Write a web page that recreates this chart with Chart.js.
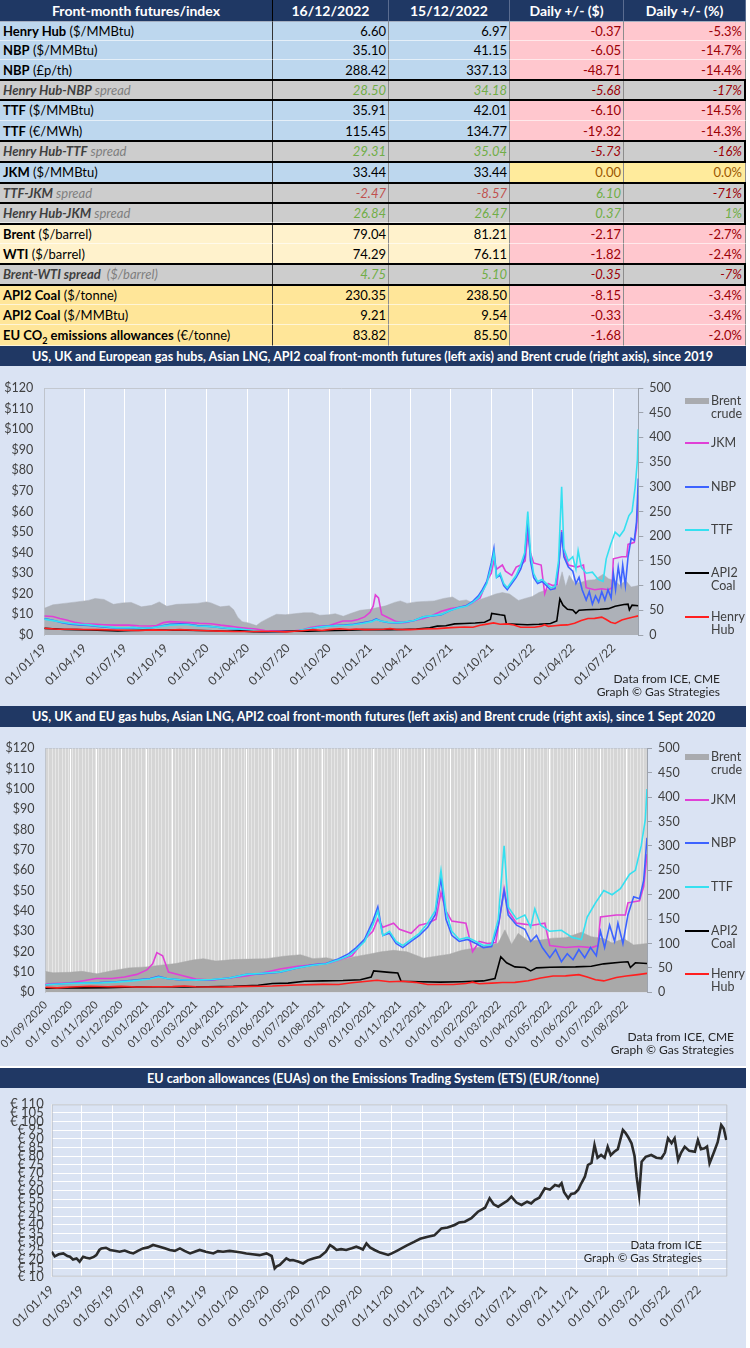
<!DOCTYPE html>
<html><head><meta charset="utf-8">
<script src="https://cdn.jsdelivr.net/npm/chart.js@4.4.1/dist/chart.umd.min.js"></script>
<style>
html,body{margin:0;padding:0}
body{width:750px;height:1348px;position:relative;overflow:hidden;background:#fff;font-family:Lato,"Noto Sans",sans-serif}
.cell{position:absolute;box-sizing:border-box;white-space:nowrap;overflow:hidden;font-size:13px;padding:0 3px}
.bar{position:absolute;left:0;width:746px;background:#203864;color:#fff;font-weight:700;font-size:13.5px}
.fit{position:absolute;top:0;white-space:nowrap;transform-origin:0 50%}
.panel{position:absolute;left:0;width:746px;background:#dae3f3}
.panel canvas{position:absolute;left:0;top:0}
.leg{position:absolute;font-size:12.5px;color:#404040;line-height:13px;white-space:nowrap}
.sw{position:absolute}
.note{position:absolute;font-size:12px;color:#262626;text-align:right;line-height:13px;white-space:nowrap}
</style></head><body>
<div id="table"></div>
<div class="bar" style="top:346px;height:20px;line-height:20px"><span class="fit" data-x="32" data-w="681">US, UK and European gas hubs, Asian LNG, API2 coal front-month futures (left axis) and Brent crude (right axis), since 2019</span></div>
<div class="panel" style="top:366px;height:340px"><canvas id="c1" width="746" height="340"></canvas></div>
<div class="bar" style="top:706px;height:21px;line-height:21px"><span class="fit" data-x="32" data-w="683">US, UK and EU gas hubs, Asian LNG, API2 coal front-month futures (left axis) and Brent crude (right axis), since 1 Sept 2020</span></div>
<div class="panel" style="top:727px;height:339px"><canvas id="c2" width="746" height="339"></canvas></div>
<div class="bar" style="top:1068px;height:20px;line-height:20px"><span class="fit" data-x="147" data-w="452">EU carbon allowances (EUAs) on the Emissions Trading System (ETS) (EUR/tonne)</span></div>
<div class="panel" style="top:1088px;height:260px"><canvas id="c3" width="746" height="260"></canvas></div>
<script>
// ---- table data ----
const tableHead = ['Front-month futures/index', '16/12/2022', '15/12/2022', 'Daily +/- ($)', 'Daily +/- (%)'];
const rowNames = ['Henry Hub', 'NBP', 'NBP', 'Henry Hub-NBP', 'TTF', 'TTF', 'Henry Hub-TTF', 'JKM', 'TTF-JKM', 'Henry Hub-JKM', 'Brent', 'WTI', 'Brent-WTI spread', 'API2 Coal', 'API2 Coal', 'EU CO2 emissions allowances'];
const rowUnits = ['($/MMBtu)', '($/MMBtu)', '(£p/th)', 'spread', '($/MMBtu)', '(€/MWh)', 'spread', '($/MMBtu)', 'spread', 'spread', '($/barrel)', '($/barrel)', '($/barrel)', '($/tonne)', '($/MMBtu)', '(€/tonne)'];
const price1612 = [6.60, 35.10, 288.42, 28.50, 35.91, 115.45, 29.31, 33.44, -2.47, 26.84, 79.04, 74.29, 4.75, 230.35, 9.21, 83.82];
const price1512 = [6.97, 41.15, 337.13, 34.18, 42.01, 134.77, 35.04, 33.44, -8.57, 26.47, 81.21, 76.11, 5.10, 238.50, 9.54, 85.50];
const dailyChange = [-0.37, -6.05, -48.71, -5.68, -6.10, -19.32, -5.73, 0.00, 6.10, 0.37, -2.17, -1.82, -0.35, -8.15, -0.33, -1.68];
const dailyPct = [-5.3, -14.7, -14.4, -17, -14.5, -14.3, -16, 0.0, -71, 1, -2.7, -2.4, -7, -3.4, -3.4, -2.0];
const rowKind = ['blue', 'blue', 'blue', 'spread', 'blue', 'blue', 'spread', 'blue', 'spread', 'spread', 'cream', 'cream', 'spread', 'gold', 'gold', 'gold'];

// ---- gas hubs (left axis $/MMBtu) and Brent (right axis $/barrel) ----
const hhDates = ['2019-01-01','2019-02-01','2019-03-01','2019-04-01','2019-05-01','2019-06-01','2019-07-01','2019-08-01','2019-09-01','2019-10-01','2019-11-01','2019-12-01','2020-01-01','2020-02-01','2020-03-01','2020-04-01','2020-05-01','2020-06-01','2020-06-26','2020-07-15','2020-08-01','2020-08-25','2020-09-15','2020-10-01','2020-10-25','2020-11-15','2020-12-01','2020-12-20','2021-01-10','2021-02-01','2021-02-15','2021-03-01','2021-04-01','2021-05-01','2021-06-01','2021-07-01','2021-08-01','2021-08-20','2021-09-05','2021-09-20','2021-10-05','2021-10-20','2021-11-05','2021-11-20','2021-12-05','2021-12-20','2022-01-05','2022-01-20','2022-01-28','2022-02-05','2022-02-20','2022-03-05','2022-03-20','2022-04-05','2022-04-20','2022-05-05','2022-05-20','2022-06-05','2022-06-15','2022-06-25','2022-07-05','2022-07-20','2022-08-01','2022-08-15','2022-08-26'];
const hhVals = [3.3,2.8,2.8,2.7,2.6,2.4,2.3,2.2,2.5,2.3,2.6,2.3,2.1,1.9,1.7,1.7,1.8,1.7,1.5,1.8,2.1,2.6,2.2,2.6,3.0,2.7,2.9,2.6,2.7,2.8,3.1,2.7,2.6,2.9,3.1,3.6,3.9,3.8,4.7,5.3,5.9,5.2,5.4,4.9,3.8,3.8,3.8,4.3,5.0,4.2,4.5,4.8,4.9,5.7,7.0,8.0,8.1,8.7,7.5,6.2,5.6,7.3,8.0,8.7,9.3];

const coalDates = ['2019-01-01','2019-01-20','2019-02-15','2019-03-15','2019-04-15','2019-05-15','2019-06-15','2019-07-15','2019-08-15','2019-09-15','2019-10-15','2019-11-15','2019-12-15','2020-01-15','2020-02-15','2020-03-15','2020-04-15','2020-05-15','2020-06-15','2020-07-15','2020-08-15','2020-09-15','2020-10-15','2020-11-15','2020-12-15','2021-01-15','2021-02-15','2021-03-15','2021-04-15','2021-05-15','2021-06-01','2021-06-20','2021-07-10','2021-08-01','2021-08-25','2021-09-15','2021-09-28','2021-10-01','2021-10-20','2021-10-30','2021-11-03','2021-11-25','2021-12-20','2022-01-15','2022-02-10','2022-02-24','2022-03-03','2022-03-10','2022-03-20','2022-04-01','2022-04-08','2022-04-15','2022-05-01','2022-06-01','2022-06-20','2022-07-05','2022-07-25','2022-08-03','2022-08-06','2022-08-12','2022-08-26'];
const coalVals = [3.2,3.0,2.7,2.6,2.4,2.2,2.0,2.2,2.3,2.4,2.3,2.3,2.2,2.1,1.8,2.0,1.6,1.6,1.7,1.9,1.9,2.1,2.2,2.3,2.6,2.7,2.6,2.7,2.9,3.5,4.3,4.5,5.4,5.6,5.8,6.2,7.5,10.5,9.8,9.5,5.4,5.2,5.0,5.2,5.6,6.8,17.5,14.5,12.5,12.2,10.5,12.0,12.3,12.5,12.8,14.0,14.8,15.0,12.2,14.5,14.2];

const ttfDates = ['2019-01-01','2019-01-20','2019-02-10','2019-03-01','2019-03-20','2019-04-10','2019-05-01','2019-05-20','2019-06-10','2019-07-01','2019-07-20','2019-08-10','2019-09-01','2019-09-20','2019-10-10','2019-11-01','2019-11-20','2019-12-10','2020-01-01','2020-01-20','2020-02-10','2020-03-01','2020-03-20','2020-04-10','2020-05-01','2020-05-25','2020-06-15','2020-07-05','2020-07-25','2020-08-15','2020-09-05','2020-09-25','2020-10-15','2020-11-05','2020-11-25','2020-12-15','2021-01-05','2021-01-15','2021-01-25','2021-02-10','2021-03-01','2021-03-20','2021-04-10','2021-05-01','2021-05-20','2021-06-10','2021-07-01','2021-07-20','2021-08-05','2021-08-20','2021-09-01','2021-09-10','2021-09-20','2021-09-30','2021-10-06','2021-10-12','2021-10-20','2021-10-28','2021-11-05','2021-11-15','2021-11-25','2021-12-05','2021-12-14','2021-12-21','2021-12-27','2022-01-03','2022-01-12','2022-01-22','2022-02-01','2022-02-10','2022-02-20','2022-02-28','2022-03-07','2022-03-12','2022-03-22','2022-04-01','2022-04-08','2022-04-13','2022-04-20','2022-05-01','2022-05-15','2022-05-28','2022-06-08','2022-06-15','2022-06-25','2022-07-05','2022-07-15','2022-07-25','2022-08-05','2022-08-12','2022-08-19','2022-08-24','2022-08-26'];
const ttfVals = [7.7,7.0,6.2,5.6,5.2,4.9,4.4,4.0,3.6,3.5,3.6,3.3,3.5,4.2,4.8,5.0,5.0,4.4,4.2,3.9,3.4,3.1,2.8,2.3,1.8,1.5,1.7,1.8,2.2,3.0,3.8,4.2,4.5,4.6,5.0,5.6,6.5,7.5,6.8,6.2,6.0,6.3,7.0,8.8,9.4,10.0,12.0,13.3,14.0,16.0,18.0,21.0,25.0,33.0,40.0,28.0,30.0,25.0,23.0,26.0,29.0,34.0,40.0,60.0,40.0,30.0,26.0,27.0,25.0,23.0,23.5,36.0,72.0,42.0,36.0,38.0,32.0,41.0,33.0,30.0,30.5,27.0,26.0,37.0,44.0,50.0,48.0,51.0,58.0,60.0,72.0,85.0,100.0];

const nbpDates = ['2019-01-01','2019-01-20','2019-02-10','2019-03-01','2019-03-20','2019-04-10','2019-05-01','2019-05-20','2019-06-10','2019-07-01','2019-07-20','2019-08-10','2019-09-01','2019-09-20','2019-10-10','2019-11-01','2019-11-20','2019-12-10','2020-01-01','2020-01-20','2020-02-10','2020-03-01','2020-03-20','2020-04-10','2020-05-01','2020-05-25','2020-06-15','2020-07-05','2020-07-25','2020-08-15','2020-09-05','2020-09-25','2020-10-15','2020-11-05','2020-11-25','2020-12-15','2021-01-05','2021-01-15','2021-01-25','2021-02-10','2021-03-01','2021-03-20','2021-04-10','2021-05-01','2021-05-20','2021-06-10','2021-07-01','2021-07-20','2021-08-05','2021-08-20','2021-09-01','2021-09-10','2021-09-20','2021-09-30','2021-10-06','2021-10-12','2021-10-20','2021-10-28','2021-11-05','2021-11-15','2021-11-25','2021-12-05','2021-12-14','2021-12-21','2021-12-27','2022-01-03','2022-01-12','2022-01-22','2022-02-01','2022-02-10','2022-02-20','2022-02-28','2022-03-07','2022-03-12','2022-03-22','2022-04-01','2022-04-08','2022-04-15','2022-04-22','2022-05-01','2022-05-08','2022-05-15','2022-05-22','2022-05-29','2022-06-05','2022-06-12','2022-06-19','2022-06-26','2022-07-01','2022-07-06','2022-07-12','2022-07-18','2022-07-22','2022-07-28','2022-08-03','2022-08-10','2022-08-17','2022-08-22','2022-08-26'];
const nbpVals = [8.0,7.2,6.0,5.3,4.9,4.6,4.2,3.8,3.4,3.4,3.6,3.2,3.5,4.4,5.2,5.4,5.2,4.6,4.3,3.9,3.3,3.0,2.6,2.1,1.6,1.4,1.6,1.8,2.1,2.9,3.8,4.3,4.6,4.8,5.2,5.9,6.8,7.8,6.8,6.1,5.9,6.2,7.0,8.8,9.2,9.9,12.0,13.5,14.2,16.5,19.0,22.0,26.0,35.0,42.0,28.0,29.0,24.0,22.0,25.0,28.0,32.0,38.0,56.0,36.0,28.0,25.0,26.0,24.0,22.0,22.5,33.0,50.0,38.0,33.0,31.0,25.0,28.0,22.0,17.0,21.0,15.0,19.0,16.0,21.0,17.0,22.0,18.0,30.0,22.0,33.0,25.0,34.0,24.0,38.0,47.0,46.0,55.0,76.0];

const jkmDates = ['2019-01-01','2019-01-20','2019-02-05','2019-02-20','2019-03-10','2019-04-01','2019-04-20','2019-05-15','2019-06-10','2019-07-10','2019-08-01','2019-08-25','2019-09-10','2019-09-25','2019-10-10','2019-11-01','2019-11-25','2019-12-15','2020-01-10','2020-02-01','2020-02-20','2020-03-10','2020-04-01','2020-04-20','2020-05-10','2020-06-01','2020-06-25','2020-07-15','2020-08-01','2020-08-20','2020-09-10','2020-09-30','2020-10-15','2020-11-01','2020-11-20','2020-12-05','2020-12-20','2021-01-01','2021-01-08','2021-01-13','2021-01-20','2021-01-27','2021-02-10','2021-03-01','2021-03-20','2021-04-10','2021-05-01','2021-05-20','2021-06-10','2021-07-01','2021-07-20','2021-08-10','2021-08-25','2021-09-05','2021-09-20','2021-09-30','2021-10-06','2021-10-12','2021-10-25','2021-11-01','2021-11-15','2021-11-25','2021-12-05','2021-12-15','2021-12-21','2021-12-27','2022-01-03','2022-01-20','2022-01-28','2022-02-05','2022-02-15','2022-02-25','2022-03-03','2022-03-07','2022-03-12','2022-03-22','2022-04-10','2022-04-25','2022-05-01','2022-05-20','2022-06-05','2022-06-20','2022-06-28','2022-07-01','2022-07-20','2022-07-31','2022-08-03','2022-08-17','2022-08-22','2022-08-26'];
const jkmVals = [9.2,9.0,8.0,7.3,6.2,5.5,5.3,5.0,4.8,4.8,4.5,4.4,4.6,6.0,6.5,6.3,6.0,5.7,5.5,4.8,4.3,3.8,3.2,2.9,2.2,2.0,2.0,2.1,2.4,3.6,4.3,4.5,5.6,6.8,6.8,7.5,8.8,11.0,14.0,19.5,18.0,10.0,8.5,6.5,6.0,7.0,8.0,9.5,11.5,12.8,13.5,14.5,16.5,18.0,26.0,30.0,36.0,32.0,34.0,31.0,29.0,33.0,34.0,36.0,49.0,40.0,35.0,34.0,20.0,25.0,24.0,24.5,40.0,51.0,40.0,34.0,33.0,34.0,23.0,22.0,22.5,22.0,23.0,37.0,38.0,38.0,44.0,45.0,52.0,68.0];

const brentDates = ['2019-01-01','2019-01-20','2019-02-15','2019-03-15','2019-04-10','2019-04-25','2019-05-15','2019-06-05','2019-06-25','2019-07-15','2019-08-07','2019-08-30','2019-09-16','2019-10-03','2019-10-25','2019-11-15','2019-12-10','2019-12-31','2020-01-10','2020-01-31','2020-02-20','2020-03-01','2020-03-10','2020-03-20','2020-04-01','2020-04-21','2020-05-01','2020-05-20','2020-06-05','2020-06-25','2020-07-15','2020-08-05','2020-08-25','2020-09-10','2020-09-30','2020-10-15','2020-11-02','2020-11-20','2020-12-10','2020-12-31','2021-01-15','2021-02-05','2021-02-25','2021-03-10','2021-03-25','2021-04-15','2021-05-05','2021-05-25','2021-06-15','2021-07-05','2021-07-20','2021-08-05','2021-08-20','2021-09-05','2021-09-25','2021-10-10','2021-10-25','2021-11-10','2021-11-30','2021-12-15','2021-12-31','2022-01-15','2022-01-31','2022-02-15','2022-02-28','2022-03-08','2022-03-16','2022-03-24','2022-04-05','2022-04-20','2022-05-05','2022-05-20','2022-06-08','2022-06-20','2022-07-05','2022-07-15','2022-07-29','2022-08-10','2022-08-26'];
const brentVals = [54,61,64,67,70,74,72,62,65,66,57,60,67,58,62,63,64,67,65,57,59,51,36,27,25,19,26,35,42,41,43,45,45,40,41,43,38,44,50,52,55,59,66,69,64,67,68,69,74,77,69,71,65,72,78,83,86,83,70,74,78,86,91,95,101,128,98,121,105,107,111,112,123,114,110,101,110,97,100];

// ---- EU carbon allowances (EUR/tonne) ----
const euaDates = ['2019-01-01','2019-01-07','2019-01-15','2019-01-24','2019-02-01','2019-02-06','2019-02-12','2019-02-19','2019-02-25','2019-03-04','2019-03-10','2019-03-17','2019-03-25','2019-03-30','2019-04-05','2019-04-09','2019-04-18','2019-04-26','2019-05-05','2019-05-15','2019-05-25','2019-06-04','2019-06-11','2019-06-20','2019-06-30','2019-07-10','2019-07-20','2019-07-26','2019-08-02','2019-08-12','2019-08-22','2019-09-01','2019-09-11','2019-09-20','2019-10-01','2019-10-10','2019-10-20','2019-11-01','2019-11-16','2019-11-25','2019-12-05','2019-12-18','2019-12-31','2020-01-10','2020-01-20','2020-02-01','2020-02-15','2020-02-29','2020-03-10','2020-03-16','2020-03-20','2020-03-26','2020-04-08','2020-04-15','2020-04-21','2020-05-01','2020-05-11','2020-05-20','2020-05-31','2020-06-13','2020-06-25','2020-07-03','2020-07-10','2020-07-16','2020-07-25','2020-08-04','2020-08-15','2020-08-24','2020-09-01','2020-09-06','2020-09-13','2020-09-20','2020-09-29','2020-10-10','2020-10-26','2020-11-02','2020-11-12','2020-11-21','2020-12-01','2020-12-17','2020-12-28','2021-01-12','2021-01-25','2021-02-08','2021-02-20','2021-03-06','2021-03-15','2021-03-26','2021-04-08','2021-04-21','2021-05-05','2021-05-14','2021-05-22','2021-05-31','2021-06-10','2021-06-18','2021-06-26','2021-07-06','2021-07-16','2021-07-27','2021-08-04','2021-08-11','2021-08-20','2021-08-31','2021-09-10','2021-09-20','2021-09-28','2021-10-03','2021-10-08','2021-10-16','2021-10-22','2021-10-29','2021-11-05','2021-11-11','2021-11-18','2021-11-24','2021-12-01','2021-12-07','2021-12-13','2021-12-20','2021-12-27','2022-01-02','2022-01-08','2022-01-15','2022-01-22','2022-02-01','2022-02-06','2022-02-11','2022-02-18','2022-02-24','2022-02-28','2022-03-05','2022-03-10','2022-03-18','2022-03-29','2022-04-08','2022-04-18','2022-04-25','2022-05-01','2022-05-08','2022-05-14','2022-05-21','2022-05-27','2022-06-03','2022-06-12','2022-06-23','2022-06-29','2022-07-05','2022-07-12','2022-07-17','2022-07-22','2022-07-31','2022-08-07','2022-08-14','2022-08-19','2022-08-24'];
const euaVals = [24.5,21.8,23.0,23.5,22.0,21.6,20.0,20.6,18.7,21.6,21.0,20.6,21.5,22.5,25.5,26.4,26.8,25.5,25.0,24.5,25.2,24.0,23.5,25.0,26.4,27.0,28.4,28.0,27.4,26.5,25.5,25.0,26.4,25.0,23.5,24.5,25.5,24.5,23.5,24.8,24.5,25.0,24.5,24.0,23.5,23.0,22.5,23.5,22.0,14.8,16.0,16.8,20.6,19.5,19.7,18.8,17.7,19.5,20.6,21.6,24.5,28.4,27.0,25.5,26.0,25.5,26.5,27.4,26.5,25.8,29.3,27.0,25.5,24.0,22.6,23.5,25.0,26.4,28.0,30.3,32.0,33.2,34.0,38.0,38.5,40.0,41.5,41.9,44.0,47.7,50.0,55.5,52.0,50.6,52.5,54.0,56.4,53.0,51.6,53.5,52.5,54.5,55.8,61.3,60.5,63.2,62.5,64.2,59.0,55.5,58.0,58.4,60.5,64.2,68.0,74.8,76.0,86.4,79.0,80.6,79.0,85.4,80.5,82.5,84.0,95.1,93.5,91.2,87.4,80.0,68.0,57.4,76.7,79.5,80.6,79.0,78.7,82.0,90.3,87.5,90.3,77.7,82.0,85.4,83.0,82.5,89.3,84.0,84.5,85.5,75.8,82.5,88.0,98.0,96.0,89.3];

// ---- axes ----
const lastDay = '2022-08-26';
const ticksSince2019 = ['2019-01-01','2019-04-01','2019-07-01','2019-10-01','2020-01-01','2020-04-01','2020-07-01','2020-10-01','2021-01-01','2021-04-01','2021-07-01','2021-10-01','2022-01-01','2022-04-01','2022-07-01'];
const ticksSince2020 = ['2020-09-01','2020-10-01','2020-11-01','2020-12-01','2021-01-01','2021-02-01','2021-03-01','2021-04-01','2021-05-01','2021-06-01','2021-07-01','2021-08-01','2021-09-01','2021-10-01','2021-11-01','2021-12-01','2022-01-01','2022-02-01','2022-03-01','2022-04-01','2022-05-01','2022-06-01','2022-07-01','2022-08-01'];
const ticksEua = ['2019-01-01','2019-03-01','2019-05-01','2019-07-01','2019-09-01','2019-11-01','2020-01-01','2020-03-01','2020-05-01','2020-07-01','2020-09-01','2020-11-01','2021-01-01','2021-03-01','2021-05-01','2021-07-01','2021-09-01','2021-11-01','2022-01-01','2022-03-01','2022-05-01','2022-07-01'];
const legendNames = [['Brent', 'crude'], ['JKM'], ['NBP'], ['TTF'], ['API2', 'Coal'], ['Henry', 'Hub']];
const legendColors = ['#a9abaf', '#e040d6', '#3d63ff', '#35e0f0', '#000000', '#ff1f1f'];

// ---- table ----
const colEdges = [0, 273, 389, 510, 624, 746];
const rowEdges = [0, 22, 41, 60, 80, 100, 120.7, 140.7, 161.7, 182.7, 203.3, 223.5, 244, 264, 285, 305, 325, 346];
const kindBg = {blue: '#bdd7ee', spread: '#cdcdcd', cream: '#fff2cc', gold: '#ffe699'};
const tbl = document.getElementById('table');

function addCell(c, r, html, st) {
  const d = document.createElement('div');
  d.className = 'cell';
  const h = rowEdges[r + 1] - rowEdges[r];
  Object.assign(d.style, {left: colEdges[c] + 'px', top: rowEdges[r] + 'px', width: (colEdges[c + 1] - colEdges[c]) + 'px',
    height: h + 'px', lineHeight: h + 'px',
    borderRight: c === 0 ? '1px solid #333' : '1px solid #8c8c8c', borderBottom: '1px solid rgba(255,255,255,0.6)'}, st);
  d.innerHTML = html;
  tbl.appendChild(d);
}
function addLine(x, y, w, h, col) {
  const d = document.createElement('div');
  Object.assign(d.style, {position: 'absolute', left: x + 'px', top: y + 'px', width: w + 'px', height: h + 'px', background: col});
  tbl.appendChild(d);
}

tableHead.forEach((t, c) => addCell(c, 0, t, {background: '#1f3864', color: '#fff', fontWeight: 700, fontSize: '14px', textAlign: 'center', borderRight: c === 0 ? '1px solid #000' : '1px solid #5a6c90'}));
rowNames.forEach((name, i) => {
  const r = i + 1, kind = rowKind[i], spread = kind === 'spread';
  const nameHtml = name.replace('CO2', 'CO<sub style="font-size:9px;line-height:0">2</sub>');
  const bg = kindBg[kind];
  const green = '#70ad47', dred = '#9c0006';
  if (spread) {
    addCell(0, r, '<b>' + nameHtml + '</b> ' + (rowUnits[i] === 'spread' ? '' : '&nbsp;') + '<span style="color:#7f7f7f">' + rowUnits[i] + '</span>', {background: bg, fontStyle: 'italic', color: '#3f3f3f'});
  } else {
    addCell(0, r, '<b>' + nameHtml + '</b> ' + rowUnits[i], {background: bg});
  }
  [price1612[i], price1512[i]].forEach((v, k) => {
    const st = {background: bg, textAlign: 'right', paddingRight: '2px'};
    if (spread) Object.assign(st, {fontStyle: 'italic', color: v >= 0 ? green : '#c0504d'});
    addCell(1 + k, r, v.toFixed(2), st);
  });
  const chg = dailyChange[i];
  let cbg = '#ffc7ce', ccol = dred;
  if (spread) { cbg = bg; ccol = chg >= 0 ? green : dred; }
  else if (chg === 0) { cbg = '#ffeb9c'; ccol = '#9c5700'; }
  const extra = spread ? {fontStyle: 'italic'} : {};
  addCell(3, r, chg.toFixed(2), Object.assign({background: cbg, color: ccol, textAlign: 'right', paddingRight: '2px'}, extra));
  const pcol = spread ? (dailyPct[i] >= 0 ? green : dred) : ccol;
  addCell(4, r, dailyPct[i].toFixed(spread ? 0 : 1) + '%', Object.assign({background: cbg, color: pcol, textAlign: 'right', paddingRight: '3px'}, extra));
});
rowKind.forEach((k, i) => {
  if (k !== 'spread') return;
  addLine(0, rowEdges[i + 1] - 1, 746, 2, '#000');
  addLine(0, rowEdges[i + 2] - 1, 746, 2, '#000');
  addLine(744, rowEdges[i + 1], 2, rowEdges[i + 2] - rowEdges[i + 1], '#000');
});

// ---- titles squeezed to the reference width ----
document.querySelectorAll('.fit').forEach(el => {
  el.style.left = el.dataset.x + 'px';
  const w = el.getBoundingClientRect().width;
  el.style.transform = 'scaleX(' + (el.dataset.w / w).toFixed(4) + ')';
});

// ---- legends and notes ----
function addLegend(ys) {
  legendNames.forEach((lines, i) => {
    const y = ys[i];
    const sw = document.createElement('div');
    sw.className = 'sw';
    const thick = i === 0 ? 6 : 2;
    Object.assign(sw.style, {left: '685px', top: (y - thick / 2) + 'px', width: '24px', height: thick + 'px', background: legendColors[i]});
    document.body.appendChild(sw);
    const t = document.createElement('div');
    t.className = 'leg';
    t.style.left = '711px';
    t.style.top = (y - 7) + 'px';
    t.innerHTML = lines.join('<br>');
    document.body.appendChild(t);
  });
}
function addNote(lines, right, top, size) {
  const n = document.createElement('div');
  n.className = 'note';
  Object.assign(n.style, {right: (750 - right) + 'px', top: top + 'px', fontSize: size + 'px'});
  n.innerHTML = lines.join('<br>');
  document.body.appendChild(n);
}
addLegend([401, 443, 487, 530, 573, 617]);
addLegend([757, 800, 843, 887, 931, 974]);
addNote(['Data from ICE, CME', 'Graph © Gas Strategies'], 720, 672, 12);
addNote(['Data from ICE, CME', 'Graph © Gas Strategies'], 734, 1030, 12);
addNote(['Data from ICE', 'Graph © Gas Strategies'], 702, 1238, 11.5);

// ---- charts ----
Chart.defaults.font.family = 'Lato';
Chart.defaults.color = '#404040';
const DAY = 86400000, T0 = Date.UTC(2019, 0, 1);
const toDay = s => { const p = s.split('-').map(Number); return Math.round((Date.UTC(p[0], p[1] - 1, p[2]) - T0) / DAY); };
const pts = (dates, vals) => dates.map((d, i) => ({x: toDay(d), y: vals[i]}));
const fmt = (v, long) => {
  const dt = new Date(T0 + v * DAY);
  const dd = String(dt.getUTCDate()).padStart(2, '0'), mm = String(dt.getUTCMonth() + 1).padStart(2, '0');
  const yy = String(dt.getUTCFullYear());
  return dd + '/' + mm + '/' + (long ? yy : yy.slice(2));
};
const plotBg = color => ({id: 'plotBg', beforeDraw(c) {
  if (!color) return;
  const a = c.chartArea, ctx = c.ctx;
  ctx.save(); ctx.fillStyle = color; ctx.fillRect(a.left, a.top, a.right - a.left, a.bottom - a.top); ctx.restore();
}});

function gasChart(id, x0, tickDates, longYear, g) {
  const xmin = toDay(x0), xmax = toDay(lastDay);
  const line = (label, dates, vals, color, order) => ({label, data: pts(dates, vals), borderColor: color, borderWidth: 1.6,
    pointRadius: 0, tension: 0, yAxisID: 'y', order});
  const scales = {
    x: {type: 'linear', min: xmin, max: xmax,
      afterBuildTicks: s => { s.ticks = tickDates.map(d => ({value: toDay(d)})); },
      afterFit: s => { s.height = g.xh; s.paddingLeft = 0; s.paddingRight = 0; },
      ticks: {autoSkip: false, minRotation: 45, maxRotation: 45, padding: 6, font: {size: g.xfont}, callback: v => fmt(v, longYear)},
      grid: {color: '#ffffff', lineWidth: 1, drawTicks: false}, border: {display: false}},
    y: {position: 'left', min: 0, max: 120,
      afterFit: s => { s.width = g.left; },
      ticks: {stepSize: 10, padding: 11, font: {size: 12.5}, callback: v => '$' + v},
      grid: {drawTicks: false, color: c => (c.tick && c.tick.value === 120 ? '#c3c8d0' : 'rgba(0,0,0,0)')},
      border: {display: true, color: '#bfc4cc'}},
    y2: {position: 'right', min: 0, max: 500,
      afterFit: s => { s.width = 40; },
      ticks: {stepSize: 50, padding: 6, font: {size: 12.5}},
      grid: {drawOnChartArea: false, drawTicks: true, tickLength: 5, color: '#9da3ad'},
      border: {display: true, color: '#9da3ad'}}
  };
  if (g.dense) {
    scales.xg = {type: 'linear', min: xmin, max: xmax, position: 'bottom',
      afterBuildTicks: s => { const t = []; for (let v = xmin; v <= xmax; v += 4) t.push({value: v}); s.ticks = t; },
      afterFit: s => { s.height = 0; s.paddingLeft = 0; s.paddingRight = 0; },
      ticks: {display: false, autoSkip: false},
      grid: {color: 'rgba(255,255,255,0.42)', drawTicks: false}, border: {display: false}};
  }
  return new Chart(document.getElementById(id), {
    type: 'line',
    data: {datasets: [
      line('Henry Hub', hhDates, hhVals, '#ff1f1f', 1),
      line('API2 Coal', coalDates, coalVals, '#000000', 2),
      line('TTF', ttfDates, ttfVals, '#35e0f0', 3),
      line('NBP', nbpDates, nbpVals, '#3d63ff', 4),
      line('JKM', jkmDates, jkmVals, '#e040d6', 5),
      {label: 'Brent crude', data: pts(brentDates, brentVals), yAxisID: 'y2', fill: 'origin', backgroundColor: g.brent,
        borderColor: g.brent, borderWidth: 0.5, pointRadius: 0, tension: 0, order: 6}
    ]},
    options: {responsive: false, animation: false, devicePixelRatio: 1,
      layout: {padding: {left: 0, top: g.top, right: 746 - g.right - 40, bottom: 0}},
      plugins: {legend: {display: false}, tooltip: {enabled: false}},
      scales},
    plugins: [plotBg(g.plotBg)]
  });
}

gasChart('c1', '2019-01-01', ticksSince2019, false, {left: 44.3, right: 638.3, top: 22, xh: 71, xfont: 12, plotBg: null, brent: '#adb1b8'});
gasChart('c2', '2020-09-01', ticksSince2020, true, {left: 45.5, right: 647, top: 21.3, xh: 73.7, xfont: 11, plotBg: '#d5d5d5', brent: '#a9a9a9', dense: true});

const plotBorder = {id: 'plotBorder', beforeDatasetsDraw(c) {
  const a = c.chartArea, ctx = c.ctx;
  ctx.save(); ctx.strokeStyle = '#bcc1c9'; ctx.lineWidth = 1;
  ctx.strokeRect(a.left + 0.5, a.top + 0.5, a.right - a.left - 1, a.bottom - a.top - 1); ctx.restore();
}};
new Chart(document.getElementById('c3'), {
  type: 'line',
  data: {datasets: [{label: 'EUA', data: pts(euaDates, euaVals), borderColor: '#2b2b2b', borderWidth: 2.6, pointRadius: 0, tension: 0}]},
  options: {responsive: false, animation: false, devicePixelRatio: 1,
    layout: {padding: {left: 0, top: 16.3, right: 746 - 727.3, bottom: 0}},
    plugins: {legend: {display: false}, tooltip: {enabled: false}},
    scales: {
      x: {type: 'linear', min: 0, max: toDay(lastDay),
        afterBuildTicks: s => { s.ticks = ticksEua.map(d => ({value: toDay(d)})); },
        afterFit: s => { s.height = 71.3; s.paddingLeft = 0; s.paddingRight = 0; },
        ticks: {autoSkip: false, minRotation: 45, maxRotation: 45, padding: 6, font: {size: 12}, callback: v => fmt(v, false)},
        grid: {color: '#ffffff', drawTicks: false}, border: {display: false}},
      y: {min: 10, max: 110,
        afterFit: s => { s.width = 51.7; },
        ticks: {stepSize: 5, autoSkip: false, padding: 8, font: {size: 13}, callback: v => '€ ' + v},
        grid: {color: '#ffffff', drawTicks: false}, border: {display: false}}
    }},
  plugins: [plotBorder]
});
</script>
</body></html>
